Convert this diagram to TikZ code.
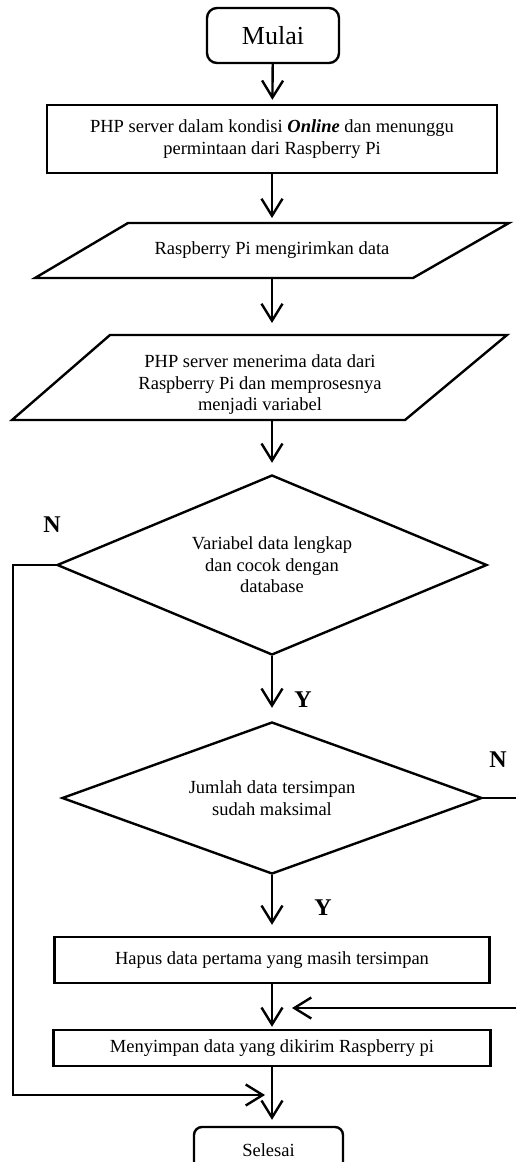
\documentclass[tikz,border=0pt]{standalone}
\usepackage{fontspec}
\setmainfont{Liberation Serif}
\usetikzlibrary{arrows.meta,shapes.geometric}
\begin{document}
\begin{tikzpicture}[x=1pt,y=-1pt,line width=2.4pt,
  txt/.style={font=\fontsize{18.5}{21.5}\selectfont,align=center,inner sep=0pt},
  procbox/.style={draw,rectangle,txt},
  termbox/.style={draw,rectangle,rounded corners=10pt,txt},
  decbox/.style={draw,diamond,txt,inner sep=0pt},
  ghost/.style={txt,outer sep=0pt},
  lbl/.style={font=\fontsize{24}{24}\selectfont\bfseries,inner sep=0pt},
  arr/.style={-{Straight Barb[length=17pt,width=21pt]}}]
\clip (0,0) rectangle (516,1162);
\fill[white] (0,0) rectangle (516,1162);
% nodes
\node[termbox,minimum width=132,minimum height=55,font=\fontsize{26}{26}\selectfont] (start) at (273,35.5) {Mulai};
\node[procbox,minimum width=450,minimum height=68] (b1) at (272,139) {PHP server dalam kondisi \textbf{\textit{Online}} dan menunggu\\permintaan dari Raspberry Pi};
\draw (128,223) -- (509,223) -- (413,278) -- (35,278) -- cycle;
\node[ghost,minimum height=55,minimum width=10] (p1) at (272,250.5) {Raspberry Pi mengirimkan data};
\draw (110,335) -- (507,335) -- (405,420) -- (12,420) -- cycle;
\node[ghost] (p2) at (260,385) {PHP server menerima data dari\\Raspberry Pi dan memprosesnya\\menjadi variabel};
\coordinate (p2top) at (272,335);
\coordinate (p2bot) at (272,420);
\node[decbox,aspect=2.39,minimum width=430,minimum height=180] (d1) at (272,565) {Variabel data lengkap\\dan cocok dengan\\database};
\node[decbox,aspect=2.76,minimum width=420,minimum height=152] (d2) at (272,798) {Jumlah data tersimpan\\sudah maksimal};
\node[procbox,minimum width=435,minimum height=46] (hapus) at (272,960) {Hapus data pertama yang masih tersimpan};
\node[procbox,minimum width=437,minimum height=36] (simpan) at (272,1048) {Menyimpan data yang dikirim Raspberry pi};
\node[termbox,rounded corners=8pt,minimum width=149,minimum height=56] (end) at (268.5,1155) {};
\node[ghost] (endtxt) at (268.5,1150) {Selesai};
% labels
\node[lbl] (n1) at (52,525) {N};
\node[lbl] (y1) at (303,700) {Y};
\node[lbl] (n2) at (498,760) {N};
\node[lbl] (y2) at (323,908) {Y};
% connectors
\coordinate (leftin) at (265,1095);
\coordinate (rightin) at (292,1008);
\draw[arr,shorten >=4pt] (start) -- (b1);
\draw[arr,shorten >=5pt] (b1.south) -- (p1.north);
\draw[arr,shorten >=12pt] (p1.south) -- (p2top);
\draw[arr,shorten >=11pt] (p2bot) -- (d1.north);
\draw[arr,shorten >=13pt] (d1.south) -- (d2.north);
\draw[arr,shorten >=11pt] (d2.south) -- (hapus.north);
\draw[arr,shorten >=2pt] (hapus.south) -- (simpan.north);
\draw[arr,shorten >=6pt] (simpan.south) -- (simpan.south |- end.north);
\draw[arr] (d1.west) -- (13,565) |- (leftin);
\draw[arr] (d2.east) -- (525,798) |- (rightin);
\end{tikzpicture}
\end{document}
